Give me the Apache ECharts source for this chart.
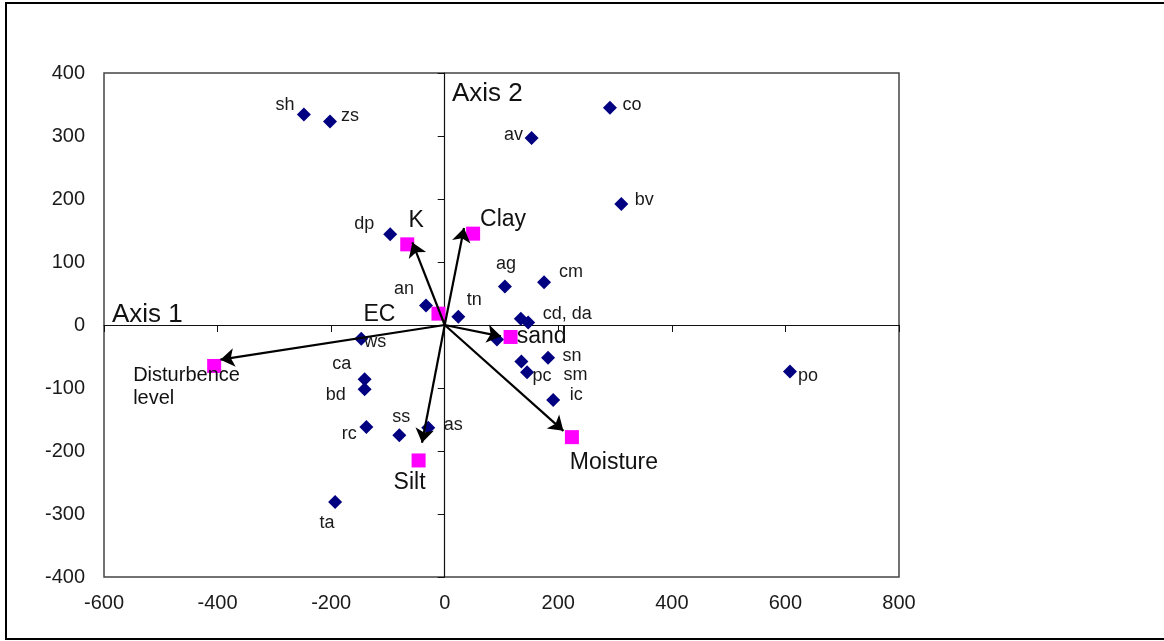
<!DOCTYPE html>
<html>
<head>
<meta charset="utf-8">
<script src="https://cdn.jsdelivr.net/npm/echarts@6/dist/echarts.min.js"></script>
<style>
html,body{margin:0;padding:0;background:#fff;}
#chart{width:1164px;height:641px;}
</style>
</head>
<body>
<div id="chart"></div>
<script>
// ---- data ----
var speciesLabels = ['sh','zs','dp','an','ws','ca','bd','rc','ss','as','ta','tn','ag','cm','','cd, da','av','co','bv','sn','sm','pc','ic','po',''];
var speciesX = [-248,-202,-96,-33,-147,-141,-141,-138,-80,-29,-193,24,106,175,134,147,153,291,311,182,135,145,191,608,92];
var speciesY = [334,323,144,31,-22,-86,-102,-162,-175,-163,-281,13,61,68,10,4,297,345,192,-52,-58,-75,-119,-74,-23];

var envLabels = ['K','EC','Clay','sand','Moisture','Silt','Disturbence\nlevel'];
var envX = [-66,-11,50,116,224,-46,-406];
var envY = [128,18,145,-19,-178,-215,-65];

// arrow tips (vectors from origin)
var arrowNames = ['K','Clay','sand','Moisture','Silt','Disturbence'];
var arrowX = [-57,34,99,209,-40,-395];
var arrowY = [131,154,-18,-168,-187,-55];

var xTicks = [-600,-400,-200,0,200,400,600,800];
var yTicks = [-400,-300,-200,-100,0,100,200,300,400];

// ---- label layout (pixel offsets, style only) ----
var speciesLabelOffsets = [[-19,-10],[20,-5],[-26,-10],[-22,-16],[14,3],[-23,-15],[-29,6],[-17,7],[2,-18],[25,-3],[-8,21],[16,-17],[1,-23],[27,-10],[0,0],[39,-8],[-18,-3],[22,-3],[23,-4],[24,-2],[54,13],[15,4],[23,-5],[18,4],[0,0]];
var envLabelOffsets = [[9,-24],[-59,1],[30,-14],[31,0],[42,26],[-9,22],[-81,21]];

var FONT = '"Liberation Sans", Arial, sans-serif';

var chart = echarts.init(document.getElementById('chart'));

var speciesData = speciesX.map(function(x,i){
  return {
    value:[x,speciesY[i]],
    label:{show: speciesLabels[i] !== '', formatter: speciesLabels[i], offset: speciesLabelOffsets[i]}
  };
});
var envData = envX.map(function(x,i){
  var isDist = i === envX.length - 1;
  return {
    value:[x,envY[i]],
    label:{
      show:true, formatter: envLabels[i], offset: envLabelOffsets[i],
      fontSize: isDist ? 20 : 23, align: isDist ? 'left' : 'center', lineHeight: isDist ? 23 : 24
    }
  };
});
var arrowData = arrowX.map(function(x,i){
  return {name: arrowNames[i], coords:[[0,0],[x,arrowY[i]]]};
});

var option = {
  backgroundColor:'#fff',
  animation:false,
  grid:{left:104,right:265,top:73,bottom:64,show:true,borderColor:'#444',borderWidth:1.5,backgroundColor:'transparent'},
  xAxis:[
    {type:'value',min:-600,max:800,interval:200,position:'bottom',
     axisLine:{show:false,onZero:false},axisTick:{show:false},splitLine:{show:false},
     axisLabel:{fontFamily:FONT,fontSize:20,color:'#1a1a1a',margin:16}},
    {type:'value',min:-600,max:800,interval:200,position:'top',
     axisLine:{show:true,onZero:true,onZeroAxisIndex:0,lineStyle:{color:'#111',width:1.2}},
     axisTick:{show:true,inside:true,length:7,lineStyle:{color:'#111'}},
     axisLabel:{show:false},splitLine:{show:false}}
  ],
  yAxis:[
    {type:'value',min:-400,max:400,interval:100,position:'left',
     axisLine:{show:false,onZero:false},axisTick:{show:false},splitLine:{show:false},
     axisLabel:{fontFamily:FONT,fontSize:20,color:'#1a1a1a',margin:19}},
    {type:'value',min:-400,max:400,interval:100,position:'right',
     axisLine:{show:true,onZero:true,onZeroAxisIndex:0,lineStyle:{color:'#111',width:1.2}},
     axisTick:{show:true,inside:true,length:7,lineStyle:{color:'#111'}},
     axisLabel:{show:false},splitLine:{show:false}}
  ],
  graphic:[
    {type:'rect',shape:{x:6,y:3,width:1300,height:636},style:{fill:'none',stroke:'#000',lineWidth:2},silent:true,z:-1},
    {type:'text',left:112,top:302,style:{text:'Axis 1',font:'26px '+FONT,fill:'#111'}},
    {type:'text',left:452,top:81,style:{text:'Axis 2',font:'26px '+FONT,fill:'#111'}}
  ],
  series:[
    {type:'scatter',name:'env',xAxisIndex:0,yAxisIndex:0,symbol:'rect',symbolSize:14,
     itemStyle:{color:'#FF00FF',opacity:1},z:2,
     label:{show:true,position:'inside',color:'#111',fontFamily:FONT,fontSize:23,verticalAlign:'middle'},
     data:envData},
    {type:'scatter',name:'species',xAxisIndex:0,yAxisIndex:0,symbol:'diamond',symbolSize:14,
     itemStyle:{color:'#000080',opacity:1},z:3,
     label:{show:true,position:'inside',color:'#1a1a1a',fontFamily:FONT,fontSize:18,align:'center',verticalAlign:'middle'},
     data:speciesData},
    {type:'lines',coordinateSystem:'cartesian2d',xAxisIndex:0,yAxisIndex:0,z:5,
     symbol:['none','arrow'],symbolSize:[0,14],
     lineStyle:{color:'#000',width:2.2,opacity:1},
     data:arrowData}
  ]
};
chart.setOption(option);
</script>
</body>
</html>
